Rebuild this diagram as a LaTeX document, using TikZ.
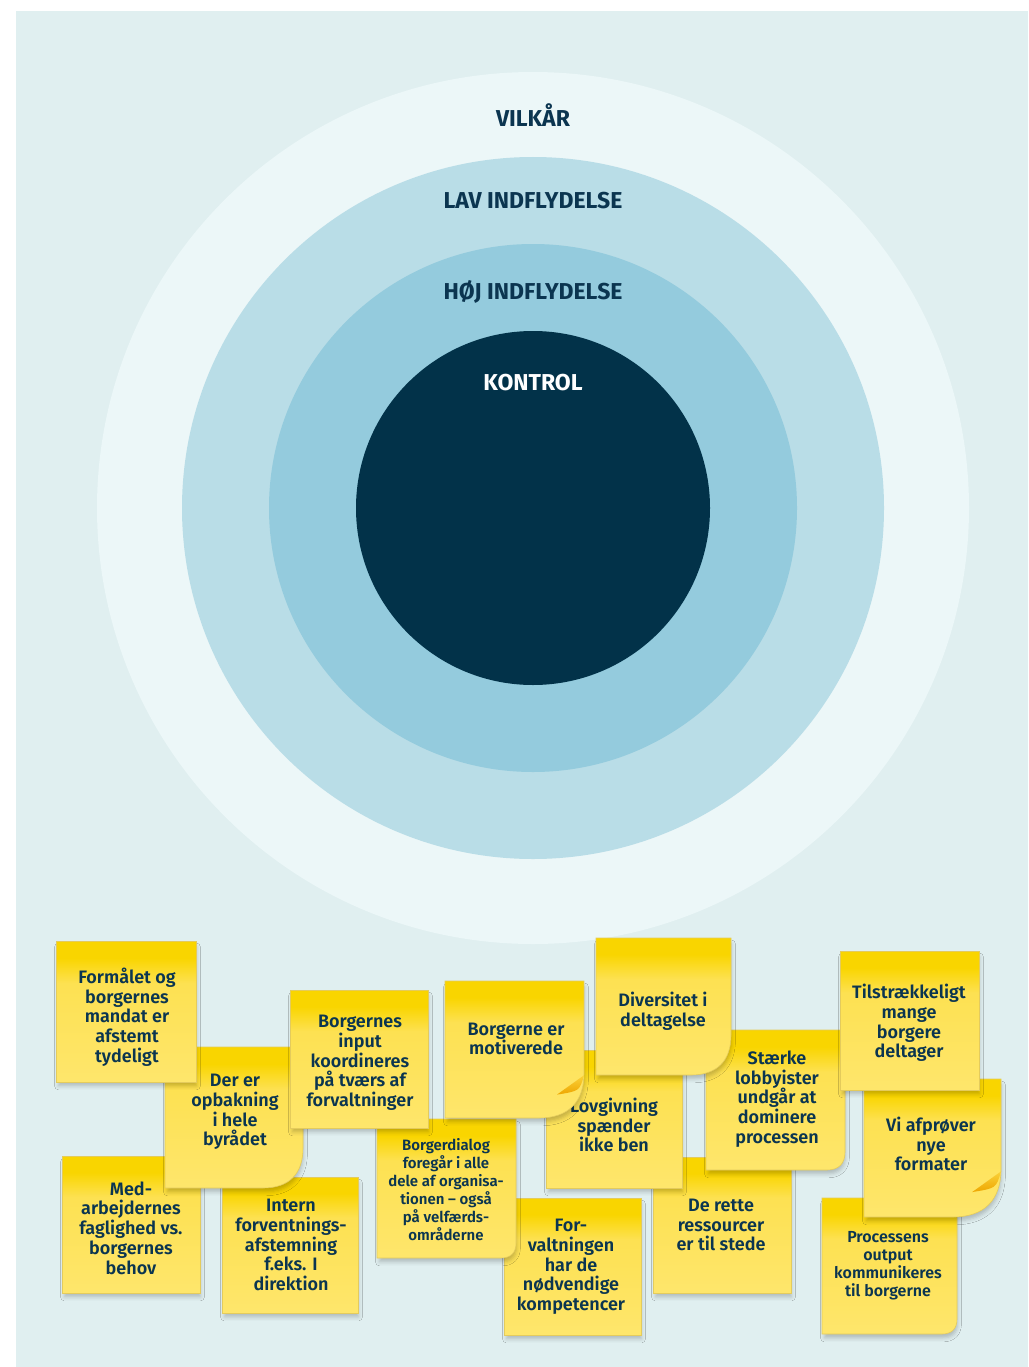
\documentclass[tikz,border=0pt]{standalone}
\usepackage{fontspec}
\setmainfont{Fira Sans}
\IfFontExistsTF{Fira Sans SemiBold}{\newfontfamily\notefont{Fira Sans SemiBold}}{\newfontfamily\notefont{Fira Sans}[FakeBold=1.2]}
\usetikzlibrary{shadows.blur}
\definecolor{bgc}{HTML}{E0EFF0}
\definecolor{ringa}{HTML}{ECF7F8}
\definecolor{ringb}{HTML}{B9DDE7}
\definecolor{ringc}{HTML}{94CBDD}
\definecolor{corec}{HTML}{023249}
\definecolor{txtc}{HTML}{0B3550}
\definecolor{noteA}{HTML}{F9D500}
\definecolor{noteB}{HTML}{FDE152}
\definecolor{noteC}{HTML}{FEE66C}
\definecolor{noteEdge}{HTML}{E4CB5C}
\definecolor{foldA}{HTML}{FAD23A}
\definecolor{foldB}{HTML}{EEA600}
\pgfdeclareverticalshading{notesh}{100bp}{color(0bp)=(noteC); color(25bp)=(noteC); color(60bp)=(noteB); color(69bp)=(noteA); color(100bp)=(noteA)}
\tikzset{
  notepaper/.style={shading=notesh, draw=noteEdge, line width=0.6pt,
    blur shadow={shadow xshift=1.5pt, shadow yshift=-5pt, shadow blur radius=4pt, shadow opacity=22, shadow scale=0.985}},
  notefold/.style={top color=foldA, bottom color=foldB, draw=none},
  notetext/.style={font=\notefont\fontsize{18}{19.7}\selectfont, text=txtc, align=center, inner sep=0pt},
  smalltext/.style={notetext, font=\notefont\fontsize{16}{18}\selectfont},
  ringlabel/.style={font=\bfseries\fontsize{23}{26}\selectfont, text=txtc, inner sep=0pt},
}
% #1 x1, #2 y1, #3 x2, #4 y2, #5 curl size
\newcommand\notebox[5]{%
  \path[notepaper] (#1,#2) -- (#3,#2) -- (#3,#4-#5)
    .. controls (#3,#4-0.35*#5) and (#3-0.35*#5,#4) .. (#3-#5,#4) -- (#1,#4) -- cycle;}
\newcommand\notefoldmark[3]{%
  \path[notefold] (#1,#2-0.95*#3) .. controls (#1-0.1*#3,#2-0.6*#3) .. (#1-0.6*#3,#2-0.52*#3) -- cycle;}
\begin{document}
\begin{tikzpicture}[x=1pt,y=-1pt]
\useasboundingbox (0,0) rectangle (1028,1367);
\fill[bgc] (16,11) rectangle (1028,1367);
% rings
\fill[ringa] (533,508) circle (436pt);
\fill[ringb] (533,508) circle (351pt);
\fill[ringc] (533,508) circle (264pt);
\fill[corec] (533,508) circle (177pt);
\node[ringlabel] (vilkar) at (533,115) {VILKÅR};
\node[ringlabel] (lav) at (533,201) {LAV INDFLYDELSE};
\node[ringlabel] (hoj) at (533,292) {HØJ INDFLYDELSE};
\node[ringlabel, text=white] (kontrol) at (533,383) {KONTROL};
% sticky notes, back to front
\notebox{62}{1156}{200}{1293}{0}
\node[notetext] (n10) at (131,1228) {Med-\\arbejdernes\\faglighed vs.\\borgernes\\behov};
\notebox{222}{1177}{358}{1313}{0}
\node[notetext] (n11) at (291,1245) {Intern\\forventnings-\\afstemning\\f.eks. I\\direktion};
\notebox{165}{1047}{303}{1188}{40}
\node[notetext] (n2) at (235,1112) {Der er\\opbakning\\i hele\\byrådet};
\notebox{56}{941}{196}{1082}{0}
\node[notetext] (n1) at (127,1017) {Formålet og\\borgernes\\mandat er\\afstemt\\tydeligt};
\notebox{504}{1198}{641}{1335}{0}
\node[notetext] (n13) at (571,1267) {For-\\valtningen\\har de\\nødvendige\\kompetencer};
\notebox{377}{1119}{516}{1258}{15}
\node[smalltext, font=\notefont\fontsize{15}{18}\selectfont] (n12) at (446,1190) {Borgerdialog\\foregår i alle\\dele af organisa-\\tionen – også\\på velfærds-\\områderne};
\notebox{290}{990}{428}{1128}{0}
\node[notetext] (n3) at (360,1063) {Borgernes\\input\\koordineres\\på tværs af\\forvaltninger};
\notebox{653}{1157}{791}{1293}{0}
\node[notetext] (n14) at (721,1225) {De rette\\ressourcer\\er til stede};
\notebox{546}{1050}{682}{1188}{0}
\node[notetext] (n6) at (614,1125) {Lovgivning\\spænder\\ikke ben};
\notebox{445}{981}{584}{1118}{45}
\notefoldmark{584}{1118}{45}
\node[notetext] (n4) at (516,1039) {Borgerne er\\motiverede};
\notebox{706}{1030}{845}{1170}{18}
\node[notetext] (n7) at (777,1099) {Stærke\\lobbyister\\undgår at\\dominere\\processen};
\notebox{596}{938}{731}{1075}{40}
\node[notetext] (n5) at (663,1011) {Diversitet i\\deltagelse};
\notebox{822}{1198}{957}{1334}{15}
\node[smalltext] (n15) at (888,1266) {Processens\\output\\kommunikeres\\til borgerne};
\notebox{864}{1079}{1001}{1217}{48}
\notefoldmark{1001}{1217}{48}
\node[notetext] (n9) at (931,1144) {Vi afprøver\\nye\\formater};
\notebox{840}{951}{979}{1090}{0}
\node[notetext] (n8) at (909,1023) {Tilstrækkeligt\\mange\\borgere\\deltager};
\end{tikzpicture}
\end{document}
